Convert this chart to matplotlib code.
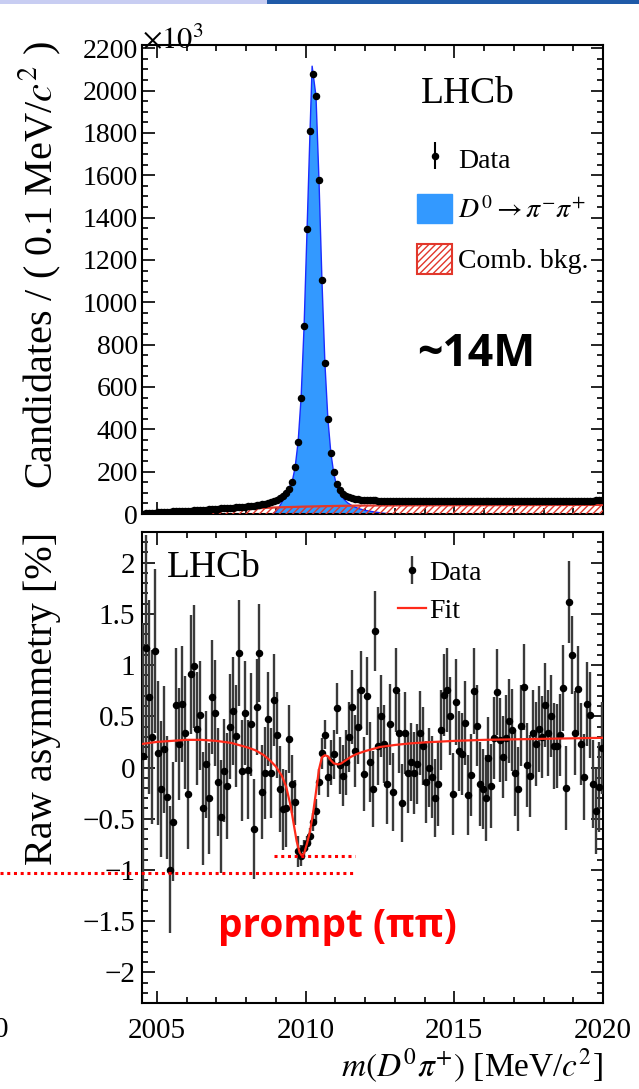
import numpy as np
import matplotlib
matplotlib.use('Agg')
import matplotlib.pyplot as plt
import matplotlib.transforms as mtransforms
from matplotlib.patches import Patch, Rectangle
from matplotlib.lines import Line2D
from matplotlib.ticker import MultipleLocator, FuncFormatter

plt.rcParams['font.family'] = ['Liberation Serif', 'DejaVu Serif']
plt.rcParams['mathtext.fontset'] = 'stix'
plt.rcParams['hatch.linewidth'] = 1.0

# ---- data ----
m_lo, m_hi, bin_w = 2004.5, 2020.0, 0.1

# candidates per 0.1 MeV bin, in thousands
cand_k = [2, 4, 5, 6, 7, 8, 9, 10, 10, 11,
          12, 12, 13, 14, 14, 15, 16, 17, 18, 19,
          20, 21, 22, 23, 24, 25, 26, 27, 28, 29,
          30, 31, 32, 33, 35, 36, 37, 39, 41, 43,
          45, 48, 52, 56, 61, 67, 74, 84, 97, 117,
          152, 222, 342, 550, 887, 1345, 1809, 2078, 1973, 1579,
          1104, 712, 449, 288, 196, 144, 114, 96, 86, 79,
          75, 72, 70, 68, 67, 66, 65, 64, 64, 63,
          63, 62, 62, 62, 61, 61, 61, 61, 61, 61,
          61, 61, 61, 61, 61, 61, 61, 61, 61, 61,
          61, 61, 61, 61, 61, 61, 61, 62, 62, 62,
          62, 62, 62, 62, 62, 62, 62, 62, 62, 62,
          62, 62, 62, 62, 62, 62, 62, 62, 63, 63,
          63, 63, 63, 63, 63, 63, 63, 63, 63, 63,
          63, 63, 63, 63, 63, 63, 63, 63, 63, 63,
          63, 63, 64, 64, 64]

# signal component (D0 -> pi pi), thousands
sig_m = [2008.9, 2009.0, 2009.1, 2009.2, 2009.3, 2009.4, 2009.48, 2009.55, 2009.65,
         2009.75, 2009.85, 2009.95, 2010.05, 2010.15, 2010.22, 2010.35, 2010.45,
         2010.55, 2010.65, 2010.75, 2010.85, 2010.95, 2011.05, 2011.15, 2011.3,
         2011.42, 2011.6, 2011.8, 2012.0, 2012.3, 2012.6, 2012.9]
sig_k = [0, 12, 30, 55, 80, 108, 135, 152, 222,
         342, 550, 887, 1345, 1809, 2115, 1973, 1579,
         1104, 712, 449, 288, 190, 130, 95, 68,
         52, 36, 25, 17, 10, 4, 0]

# combinatorial background, thousands
bkg_m = [2004.41, 2004.6, 2005.0, 2005.5, 2006.0, 2007.0, 2008.0, 2009.0,
         2010.0, 2011.0, 2012.0, 2014.0, 2017.0, 2020.0]
bkg_k = [0, 4, 7, 10, 13, 19, 25, 31, 35, 38, 40, 41, 42, 43]

# raw asymmetry [%] per bin and its error
asym = [0.11, 1.17, 0.69, 0.30, 1.14, 0.14, -0.21, 0.18, -0.29, -1.00,
        -0.53, 0.61, 0.23, 0.62, 0.34, -0.26, 0.91, 0.99, 0.38, 0.51,
        -0.40, 0.03, -0.30, 0.69, 0.53, -0.14, -0.48, -0.03, -0.18, 0.40,
        0.55, 0.31, 1.12, -0.03, 0.53, -0.02, 0.42, -0.60, 0.59, 1.12,
        -0.24, -0.05, 0.47, -0.05, 0.66, 0.32, -0.21, -0.41, -0.40, 0.28,
        -0.16, -0.34, -0.82, -0.86, -0.79, -0.74, -0.67, -0.53, -0.42, -0.14,
        0.14, 0.32, -0.09, 0.05, 0.13, 0.58, 0.02, -0.08, 0.05, 0.30,
        0.59, 0.16, 0.40, 0.76, -0.06, 0.70, 0.05, -0.21, 1.33, 0.21,
        0.50, 0.23, -0.16, 0.42, -0.24, 0.76, 0.34, -0.35, 0.34, -0.05,
        0.05, -0.05, 0.03, 0.34, 0.21, -0.14, 0.00, -0.09, -0.30, -0.16,
        0.37, 0.71, 0.76, 0.50, -0.26, 0.64, 0.16, 0.13, 0.43, -0.27,
        -0.07, 0.75, 0.41, -0.16, -0.21, -0.30, 0.09, -0.18, 0.29, 0.74,
        0.27, 0.10, 0.29, 0.45, 0.37, -0.05, -0.21, 0.41, 0.79, 0.02,
        -0.08, 0.34, 0.23, 0.38, 0.30, 0.61, 0.34, 0.50, 0.21, 0.21,
        0.32, 0.78, -0.20, 1.62, 1.10, 0.34, 0.77, 0.23, -0.09, 0.62,
        0.51, -0.16, -0.42, -0.19, 0.19]
asym_err = [1.30, 1.10, 0.95, 0.85, 0.80, 0.70, 0.66, 0.62, 0.60, 0.62,
            0.58, 0.56, 0.55, 0.57, 0.55, 0.54, 0.58, 0.60, 0.55, 0.53,
            0.55, 0.52, 0.54, 0.56, 0.52, 0.53, 0.55, 0.50, 0.52, 0.51,
            0.53, 0.50, 0.52, 0.49, 0.51, 0.48, 0.50, 0.49, 0.47, 0.48,
            0.46, 0.45, 0.46, 0.44, 0.45, 0.42, 0.42, 0.40, 0.38, 0.33,
            0.28, 0.22, 0.15, 0.10, 0.08, 0.07, 0.08, 0.09, 0.11, 0.13,
            0.15, 0.14, 0.20, 0.22, 0.24, 0.25, 0.28, 0.30, 0.32, 0.34,
            0.36, 0.35, 0.37, 0.38, 0.36, 0.38, 0.39, 0.37, 0.39, 0.38,
            0.40, 0.38, 0.39, 0.40, 0.38, 0.41, 0.39, 0.38, 0.40, 0.39,
            0.38, 0.40, 0.39, 0.41, 0.38, 0.40, 0.39, 0.40, 0.38, 0.41,
            0.39, 0.40, 0.41, 0.38, 0.40, 0.42, 0.39, 0.40, 0.41, 0.39,
            0.40, 0.42, 0.40, 0.41, 0.39, 0.42, 0.40, 0.41, 0.40, 0.42,
            0.41, 0.40, 0.42, 0.41, 0.40, 0.42, 0.41, 0.40, 0.42, 0.41,
            0.40, 0.42, 0.41, 0.42, 0.40, 0.41, 0.42, 0.40, 0.42, 0.41,
            0.40, 0.42, 0.41, 0.40, 0.38, 0.41, 0.42, 0.40, 0.42, 0.41,
            0.42, 0.43, 0.42, 0.44, 0.45]

# fit curve of the asymmetry
fit_m = [2004.5, 2005.0, 2005.5, 2006.0, 2006.5, 2007.0, 2007.5, 2008.0, 2008.3,
         2008.6, 2008.8, 2009.0, 2009.2, 2009.35, 2009.5, 2009.6, 2009.7, 2009.8,
         2009.87, 2009.95, 2010.05, 2010.15, 2010.25, 2010.35, 2010.45, 2010.55,
         2010.65, 2010.75, 2010.85, 2010.95, 2011.1, 2011.2, 2011.35, 2011.5,
         2011.7, 2012.0, 2012.5, 2013.0, 2013.5, 2014.0, 2015.0, 2016.0, 2017.0,
         2018.0, 2019.0, 2020.0]
fit_a = [0.23, 0.25, 0.26, 0.27, 0.27, 0.26, 0.24, 0.20, 0.17,
         0.12, 0.07, 0.01, -0.08, -0.19, -0.38, -0.55, -0.72, -0.83,
         -0.86, -0.84, -0.74, -0.62, -0.45, -0.24, -0.02, 0.10,
         0.12, 0.11, 0.07, 0.04, 0.03, 0.04, 0.07, 0.10,
         0.13, 0.16, 0.20, 0.22, 0.235, 0.245, 0.26, 0.27, 0.275,
         0.28, 0.285, 0.29]

m_centres = m_lo + bin_w * (np.arange(len(cand_k)) + 0.5)

W, H = 639, 1089
fig = plt.figure(figsize=(W / 100, H / 100), dpi=100)

def fx(px):
    return px / W

def fy(py):
    return 1 - py / H

ax1 = fig.add_axes([fx(142), fy(514), fx(603) - fx(142), fy(45) - fy(514)])
ax2 = fig.add_axes([fx(142), fy(1003), fx(603) - fx(142), fy(532) - fy(1003)])

sig_blue = '#3399ff'
bkg_red = '#e2372b'

# top panel
ax1.fill_between(sig_m, 0, sig_k, facecolor=sig_blue, edgecolor='none', zorder=2)
ax1.plot(sig_m, sig_k, color='#1a2cff', lw=1.0, zorder=2.5)
ax1.fill_between(bkg_m, 0, bkg_k, facecolor='none', edgecolor=bkg_red,
                 hatch='/////', linewidth=0, zorder=3)
ax1.plot(bkg_m, bkg_k, color=bkg_red, lw=1.6, zorder=3.5)
data1 = ax1.errorbar(m_centres, cand_k, yerr=0, fmt='o', ms=4.4, color='black',
                     elinewidth=1.5, capsize=0, zorder=5)
ax1.set_xlim(m_lo, m_hi)
ax1.set_ylim(0, 2215)

h_sig = Patch(facecolor=sig_blue, edgecolor=sig_blue)
h_bkg = Patch(facecolor='white', edgecolor=bkg_red, hatch='/////', lw=1.5)
ax1.legend([data1, h_sig, h_bkg],
           ['Data', r'$D^0\rightarrow\pi^{-}\pi^{+}$', 'Comb. bkg.'],
           loc='upper left', bbox_to_anchor=(0.597, 0.79), frameon=False,
           fontsize=20, handlelength=1.27, handleheight=1.27, handletextpad=0.2,
           labelspacing=0.72, borderpad=0, borderaxespad=0)
ax1.text(0.605, 0.895, 'LHCb', transform=ax1.transAxes, fontsize=27,
         ha='left', va='center')

# bottom panel
d2 = ax2.errorbar(m_centres, asym, yerr=asym_err, fmt='o', ms=4.4, color='black',
                  ecolor='#3a3a3a', elinewidth=1.7, capsize=0, zorder=3)
f2, = ax2.plot(fit_m, fit_a, color='#ff2a1a', lw=1.6, zorder=4)
ax2.set_xlim(m_lo, m_hi)
ax2.set_ylim(-2.3, 2.3)
ax2.legend([d2, f2], ['Data', 'Fit'], loc='upper left',
           bbox_to_anchor=(0.555, 0.94), frameon=False,
           fontsize=20, handlelength=1.0, handletextpad=0.12, labelspacing=0.45,
           borderpad=0, borderaxespad=0)
ax2.text(0.055, 0.925, 'LHCb', transform=ax2.transAxes, fontsize=27,
         ha='left', va='center')

for ax in (ax1, ax2):
    ax.xaxis.set_major_locator(MultipleLocator(5))
    ax.xaxis.set_minor_locator(MultipleLocator(1))
    ax.tick_params(which='both', direction='in', top=True, right=True,
                   labelsize=21, width=1.2, pad=5)
    ax.tick_params(which='major', length=9)
    ax.tick_params(which='minor', length=4.5)
    for sp in ax.spines.values():
        sp.set_linewidth(1.5)

ax1.yaxis.set_major_locator(MultipleLocator(200))
ax1.yaxis.set_minor_locator(MultipleLocator(50))
ax1.tick_params(labelbottom=False, labelsize=20, pad=3)
ax2.yaxis.set_major_locator(MultipleLocator(0.5))
ax2.yaxis.set_minor_locator(MultipleLocator(0.1))
ax2.yaxis.set_major_formatter(FuncFormatter(
    lambda v, p: ('%g' % (round(v, 2) + 0.0)).replace('-', '\u2212')))
ax2.tick_params(axis='x', pad=11)

# axis titles
fig.text(fx(40), fy(265), 'Candidates / ( 0.1 MeV/$c^2$ )', rotation=90,
         ha='center', va='center', fontsize=29)
fig.text(fx(142), fy(48), r'$\times10^{3}$', ha='left', va='baseline', fontsize=22)
fig.text(fx(42), fy(698), 'Raw asymmetry [%]', rotation=90,
         ha='center', va='center', fontsize=29)
fig.text(fx(603), fy(1077), r'$m(D^0\pi^{+})$ [MeV/$c^2$]', ha='right',
         va='baseline', fontsize=24)
fig.text(fx(8), fy(1030), '0', ha='right', va='center', fontsize=21)

# slide annotations
fig.text(fx(417), fy(355), '~14M', ha='left', va='center', fontsize=32,
         fontweight='bold', family=['Open Sans', 'DejaVu Sans'])
fig.text(fx(218), fy(927), 'prompt (ππ)', ha='left', va='center', fontsize=28,
         fontweight='bold', color='#ff0000', family=['Open Sans', 'DejaVu Sans'])

trans = mtransforms.blended_transform_factory(fig.transFigure, ax2.transData)
ax2.add_line(Line2D([0, fx(355)], [-1.03, -1.03], transform=trans, color='#ff0000',
                    lw=2.2, ls=(0, (1, 1.2)), clip_on=False, zorder=6))
ax2.add_line(Line2D([fx(274), fx(355)], [-0.86, -0.86], transform=trans,
                    color='#ff0000', lw=2.2, ls=(0, (1, 1.2)), clip_on=False, zorder=6))

# slide header strip
fig.add_artist(Rectangle((0, fy(4)), fx(267), fy(0) - fy(4), transform=fig.transFigure,
                         facecolor='#c8cdf2', edgecolor='none'))
fig.add_artist(Rectangle((fx(267), fy(4)), 1 - fx(267), fy(0) - fy(4),
                         transform=fig.transFigure, facecolor='#1f5aa8', edgecolor='none'))

fig.savefig('out.png', dpi=100)
